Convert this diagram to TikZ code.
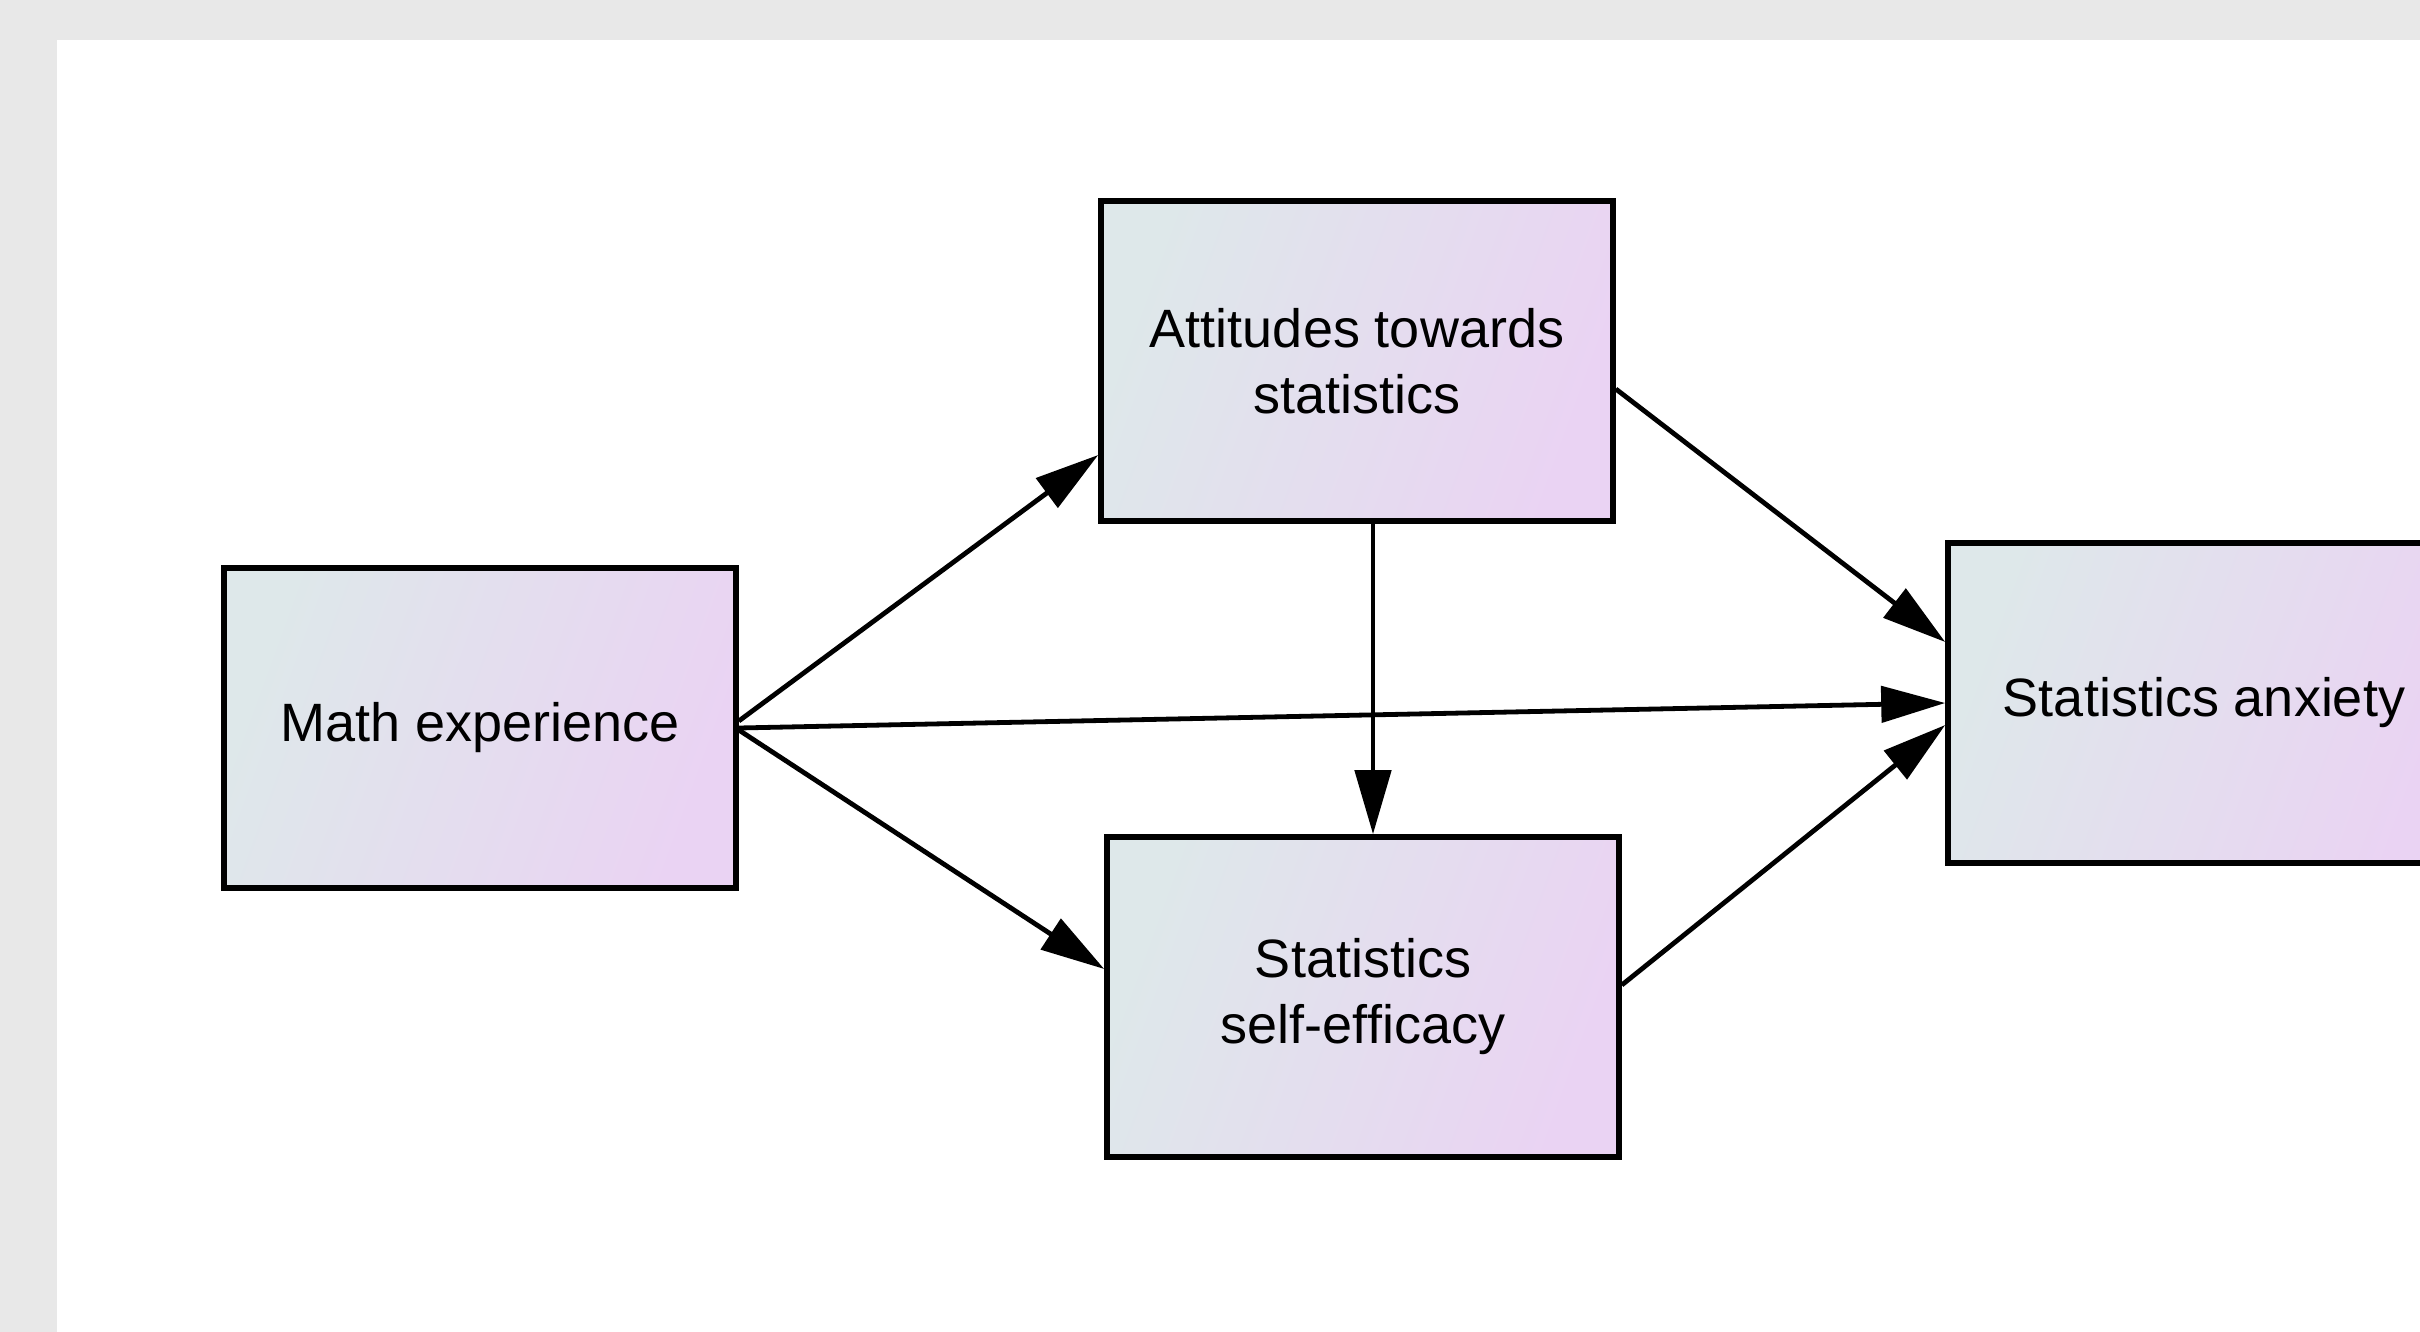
\documentclass[tikz,border=0pt]{standalone}
\usepackage{fontspec}
\setmainfont{Liberation Sans}
\usetikzlibrary{arrows.meta}
\definecolor{bggray}{RGB}{232,232,232}
\definecolor{boxA}{RGB}{222,232,234}
\definecolor{boxB}{RGB}{234,211,243}
\tikzset{
  varbox/.style={draw=black, line width=2.8pt, rectangle, minimum width=256pt, minimum height=160pt,
    align=center, inner sep=0pt, font=\fontsize{27pt}{33pt}\selectfont,
    left color=boxA, right color=boxB, shading angle=70},
  path/.style={draw=black, line width=2.4pt, -{Triangle[length=32pt,width=18pt]}}
}
\begin{document}
\begin{tikzpicture}[x=0.5pt,y=-0.5pt]
\useasboundingbox (0,0) rectangle (2420,1332);
\fill[bggray] (0,0) rectangle (2420,1332);
\fill[white] (57,40) rectangle (2420,1332);
\begin{scope}
\clip (0,0) rectangle (2420,1332);
\node[varbox] (math) at (480,728) {\raisebox{-2pt}{Math experience}};
\node[varbox] (att) at (1357,361) {Attitudes towards\\statistics};
\node[varbox] (eff) at (1363,997) {Statistics\\self-efficacy};
\node[varbox] (anx) at (2204,703) {\raisebox{-2pt}{Statistics anxiety}};
\draw[path] ([yshift=3.5pt]math.east) -- ([yshift=-47pt]att.west);
\draw[path] ([yshift=-1pt]math.east) -- ([yshift=14pt]eff.west);
\draw[path] (math.east) -- (anx.west);
\draw[path] ([xshift=8pt]att.south) -- ([xshift=8pt]att.south |- eff.north);
\draw[path] ([yshift=-14pt]att.east) -- ([yshift=30.5pt]anx.west);
\draw[path] ([yshift=6pt]eff.east) -- ([yshift=-11pt]anx.west);
\end{scope}
\end{tikzpicture}
\end{document}
